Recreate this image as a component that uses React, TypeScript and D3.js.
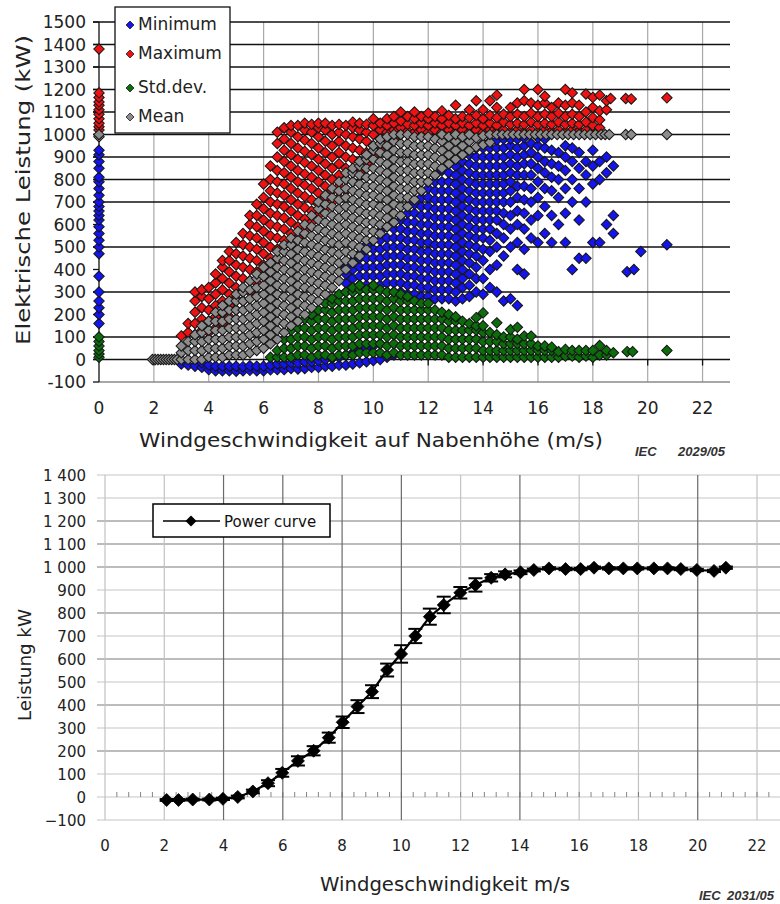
import React from 'react'
import * as d3 from 'd3'

const W = 780, H = 904
const FONT = 'DejaVu Sans'

// upper figure: 10-minute statistics, each entry is [wind m/s, kW, kW, ...]
const minCols: number[][] = [
  [0, 160, 200, 230, 260, 300, 370, 470, 500, 530, 560, 590, 620, 640, 660, 680, 700, 730, 760, 790, 810, 850, 880, 910, 930],
  [3.0, -20], [3.25, -25], [3.5, -30], [3.75, -35, -15],
  [4.0, -45, -25], [4.25, -50, -30], [4.5, -50, -30], [4.75, -50, -30], [5.0, -52, -30],
  [5.25, -50, -32], [5.5, -48, -28], [5.75, -50, -30], [6.0, -50, -30], [6.25, -46, -25],
  [6.5, -45, -20], [6.75, -45, -20], [7.0, -40, -15], [7.25, -42, -15], [7.5, -40, -10],
  [7.75, -35, -10], [8.0, -35, -5], [8.25, -30, 0], [8.5, -30, 5], [8.75, -25, 10],
  [9.0, -25, 20], [9.25, -20, 30], [9.5, -15, 40], [9.75, -10, 50], [10.0, -5, 60],
  [10.25, 0, 70], [10.5, 10], [10.75, 20],
  [9.0, 300, 340, 380, 410],
  [9.25, 320, 360, 400, 440],
  [9.5, 330, 370, 410, 450, 470],
  [9.75, 330, 370, 410, 450, 490, 510],
  [10.0, 330, 370, 410, 450, 490, 530],
  [10.25, 330, 370, 410, 450, 490, 530, 570],
  [10.5, 300, 340, 380, 420, 460, 500, 540, 590],
  [10.75, 300, 340, 380, 420, 460, 500, 540, 580, 610],
  [11.0, 300, 340, 380, 420, 460, 500, 540, 580, 620, 640],
  [11.25, 290, 330, 370, 410, 450, 490, 530, 570, 610, 650, 680],
  [11.5, 290, 330, 370, 410, 450, 490, 530, 570, 610, 650, 690, 710],
  [11.75, 280, 320, 360, 400, 440, 480, 520, 560, 600, 640, 680, 720, 750],
  [12.0, 280, 320, 360, 400, 440, 480, 520, 560, 600, 640, 680, 720, 760, 790],
  [12.25, 270, 310, 350, 390, 430, 470, 510, 550, 590, 630, 670, 710, 750, 790, 820],
  [12.5, 270, 310, 350, 390, 430, 470, 510, 550, 590, 630, 670, 710, 750, 790, 840],
  [12.75, 270, 310, 350, 390, 430, 470, 510, 550, 590, 630, 670, 710, 750, 790, 830, 870],
  [13.0, 260, 300, 340, 380, 420, 460, 500, 540, 580, 620, 660, 700, 740, 780, 820, 860, 890],
  [13.25, 270, 320, 360, 400, 440, 480, 520, 560, 600, 640, 680, 720, 760, 800, 840, 880, 910],
  [13.5, 280, 330, 380, 430, 470, 510, 550, 590, 630, 670, 710, 750, 790, 830, 870, 910, 930],
  [13.75, 300, 360, 410, 460, 500, 540, 580, 620, 660, 700, 740, 780, 820, 860, 900, 940],
  [14.0, 290, 360, 440, 490, 540, 580, 620, 660, 700, 740, 780, 820, 860, 900, 940, 960],
  [14.25, 320, 400, 480, 530, 580, 620, 660, 700, 740, 780, 820, 860, 900, 940, 970],
  [14.5, 300, 420, 500, 560, 620, 660, 700, 740, 780, 820, 860, 900, 940, 975],
  [14.75, 260, 460, 540, 600, 650, 700, 740, 780, 820, 860, 900, 940, 980],
  [15.0, 270, 500, 580, 640, 700, 750, 790, 830, 870, 910, 950, 980],
  [15.25, 240, 400, 520, 600, 660, 720, 770, 820, 860, 900, 940, 980],
  [15.5, 380, 490, 580, 650, 710, 770, 820, 870, 910, 950, 985],
  [15.75, 540, 620, 700, 760, 820, 870, 920, 960],
  [16.0, 520, 640, 720, 790, 850, 900, 950, 985],
  [16.25, 560, 680, 760, 830, 880, 940, 980],
  [16.5, 520, 640, 750, 810, 870, 930],
  [16.75, 600, 720, 800, 860, 920],
  [17.0, 520, 650, 760, 840, 900, 950],
  [17.25, 400, 700, 800, 880, 940],
  [17.5, 450, 620, 760, 850, 920],
  [17.75, 450, 700, 820, 880],
  [18.0, 520, 780, 860, 930],
  [18.25, 520, 800, 880],
  [18.5, 600, 830, 900],
  [18.75, 560, 640, 860],
  [19.25, 390], [19.5, 400], [19.75, 480], [20.7, 510],
]

const maxCols: number[][] = [
  [0, 1020, 1035, 1050, 1070, 1090, 1110, 1130, 1145, 1165, 1185, 1380],
  [3.0, 105],
  [3.25, 120, 160],
  [3.5, 110, 160, 210, 260, 300],
  [3.75, 130, 180, 230, 280, 310],
  [4.0, 120, 170, 220, 270, 320],
  [4.25, 140, 190, 240, 290, 340, 380],
  [4.5, 160, 210, 260, 310, 360, 410, 440],
  [4.75, 190, 240, 290, 340, 390, 440, 480],
  [5.0, 220, 270, 320, 370, 420, 470, 520],
  [5.25, 260, 310, 360, 410, 460, 510, 560],
  [5.5, 300, 350, 400, 450, 500, 550, 600, 640],
  [5.75, 340, 390, 440, 490, 540, 590, 640, 690],
  [6.0, 370, 420, 470, 520, 570, 620, 670, 720, 780],
  [6.25, 400, 450, 500, 550, 600, 650, 700, 750, 800, 860],
  [6.5, 440, 490, 540, 590, 640, 690, 740, 790, 840, 900, 960, 1010],
  [6.75, 480, 530, 580, 630, 680, 730, 780, 830, 880, 930, 980, 1030],
  [7.0, 510, 560, 610, 660, 710, 760, 810, 860, 910, 960, 1010, 1040],
  [7.25, 540, 590, 640, 690, 740, 790, 840, 890, 940, 990, 1040],
  [7.5, 575, 625, 675, 725, 775, 825, 875, 925, 975, 1020, 1050],
  [7.75, 610, 660, 710, 760, 810, 860, 910, 960, 1010, 1045],
  [8.0, 640, 690, 740, 790, 840, 890, 940, 990, 1030, 1050],
  [8.25, 670, 720, 770, 820, 870, 920, 970, 1020, 1050],
  [8.5, 700, 750, 800, 850, 900, 950, 1000, 1040],
  [8.75, 720, 770, 820, 870, 920, 970, 1010, 1045],
  [9.0, 750, 800, 850, 900, 950, 1000, 1040],
  [9.25, 790, 840, 890, 940, 990, 1030, 1055],
  [9.5, 830, 880, 930, 980, 1020, 1050],
  [9.75, 870, 920, 970, 1010, 1045],
  [10.0, 900, 950, 1000, 1040, 1070],
  [10.25, 930, 980, 1020, 1050],
  [10.5, 960, 1010, 1040, 1070],
  [10.75, 980, 1020, 1050, 1080],
  [11.0, 1000, 1030, 1060, 1100],
  [11.25, 1015, 1045, 1080],
  [11.5, 1010, 1040, 1070, 1100],
  [11.75, 1020, 1050, 1080],
  [12.0, 1010, 1040, 1070, 1095],
  [12.25, 1020, 1050, 1080],
  [12.5, 1010, 1040, 1070, 1105],
  [12.75, 1020, 1050, 1085],
  [13.0, 1010, 1040, 1070, 1130],
  [13.25, 1020, 1050, 1080],
  [13.5, 1010, 1040, 1075, 1110],
  [13.75, 1020, 1050, 1085, 1150],
  [14.0, 1010, 1040, 1070, 1110],
  [14.25, 1020, 1050, 1085, 1150],
  [14.5, 1010, 1040, 1075, 1120, 1175],
  [14.75, 1020, 1055, 1090],
  [15.0, 1010, 1045, 1080, 1120],
  [15.25, 1020, 1050, 1090, 1140],
  [15.5, 1010, 1045, 1080, 1150, 1200],
  [15.75, 1020, 1055, 1095, 1140],
  [16.0, 1010, 1045, 1080, 1130, 1200],
  [16.25, 1020, 1050, 1090, 1140, 1170],
  [16.5, 1015, 1045, 1080, 1120],
  [16.75, 1020, 1055, 1095, 1140],
  [17.0, 1010, 1045, 1080, 1130, 1200],
  [17.25, 1020, 1050, 1090, 1140, 1185],
  [17.5, 1015, 1045, 1080, 1130],
  [17.75, 1020, 1055, 1100, 1180],
  [18.0, 1010, 1040, 1075, 1120, 1165],
  [18.25, 1030, 1065, 1105, 1175],
  [18.5, 1110, 1150],
  [18.65, 1160],
  [19.2, 1160], [19.4, 1158], [20.7, 1163],
]

const stdCols: number[][] = [
  [0, 10, 25, 40, 60, 80, 100],
  [6.25, 10], [6.5, 10, 40], [6.75, 10, 50, 90], [7.0, 10, 50, 90, 130],
  [7.25, 20, 60, 100, 140, 170],
  [7.5, 20, 60, 100, 140, 180],
  [7.75, 10, 50, 90, 130, 170, 200],
  [8.0, 20, 60, 100, 140, 180, 220],
  [8.25, 20, 60, 100, 140, 180, 220, 250],
  [8.5, 10, 50, 90, 130, 170, 210, 250, 270],
  [8.75, 20, 60, 100, 140, 180, 220, 260, 290],
  [9.0, 20, 60, 100, 140, 180, 220, 260, 300],
  [9.25, 20, 60, 100, 140, 180, 220, 260, 300, 320],
  [9.5, 30, 70, 110, 150, 190, 230, 270, 310, 330],
  [9.75, 30, 70, 110, 150, 190, 230, 270, 310],
  [10.0, 30, 70, 110, 150, 190, 230, 270, 310, 330],
  [10.25, 30, 70, 110, 150, 190, 230, 270, 310],
  [10.5, 20, 60, 100, 140, 180, 220, 260, 300],
  [10.75, 30, 70, 110, 150, 190, 230, 270, 300],
  [11.0, 20, 60, 100, 140, 180, 220, 260, 290],
  [11.25, 20, 60, 100, 140, 180, 220, 260, 280],
  [11.5, 20, 60, 100, 140, 180, 220, 260],
  [11.75, 20, 60, 100, 140, 180, 220, 250],
  [12.0, 20, 60, 100, 140, 180, 220, 250],
  [12.25, 20, 60, 100, 140, 180, 220],
  [12.5, 20, 60, 100, 140, 180, 210],
  [12.75, 10, 50, 90, 130, 170, 200],
  [13.0, 10, 50, 90, 130, 170, 190],
  [13.25, 10, 50, 90, 130, 170],
  [13.5, 10, 50, 90, 130, 160],
  [13.75, 10, 50, 90, 130, 150, 186],
  [14.0, 10, 40, 80, 120, 150, 207],
  [14.25, 10, 40, 80, 120],
  [14.5, 10, 40, 80, 110, 163],
  [14.75, 10, 40, 70, 100],
  [15.0, 10, 40, 70, 100, 133],
  [15.25, 10, 40, 70, 90, 143],
  [15.5, 10, 40, 70, 104],
  [15.75, 10, 40, 70, 104],
  [16.0, 10, 40, 60],
  [16.25, 10, 40, 60],
  [16.5, 10, 40, 55],
  [16.75, 10, 35], [17.0, 15, 45], [17.25, 15, 40], [17.5, 10, 40], [17.75, 15, 40],
  [18.0, 10, 40], [18.25, 20, 62], [18.5, 20, 40], [18.75, 30],
  [19.25, 35], [19.45, 35], [20.7, 40],
]

const meanCols: number[][] = [
  [0, 990, 1000],
  [1.95, 0], [2.05, 0], [2.15, 0], [2.25, 0], [2.35, 0], [2.45, 0], [2.55, 0], [2.65, 0], [2.75, 0], [2.85, 0],
  [3.0, 0, 30, 60],
  [3.25, 0, 40, 80],
  [3.5, 0, 40, 80, 110],
  [3.75, 0, 40, 80, 120, 150],
  [4.0, 10, 50, 90, 130, 170],
  [4.25, 10, 50, 90, 130, 170, 210],
  [4.5, 10, 50, 90, 130, 170, 210, 240],
  [4.75, 20, 60, 100, 140, 180, 220, 260],
  [5.0, 20, 60, 100, 140, 180, 220, 260, 290],
  [5.25, 20, 60, 100, 140, 180, 220, 260, 300, 320],
  [5.5, 30, 70, 110, 150, 190, 230, 270, 310, 350],
  [5.75, 40, 80, 120, 160, 200, 240, 280, 320, 360, 380],
  [6.0, 50, 90, 130, 170, 210, 250, 290, 330, 370, 410],
  [6.25, 70, 110, 150, 190, 230, 270, 310, 350, 390, 430],
  [6.5, 90, 130, 170, 210, 250, 290, 330, 370, 410, 450, 480],
  [6.75, 120, 160, 200, 240, 280, 320, 360, 400, 440, 480, 510],
  [7.0, 150, 190, 230, 270, 310, 350, 390, 430, 470, 510, 540],
  [7.25, 170, 210, 250, 290, 330, 370, 410, 450, 490, 530, 570],
  [7.5, 200, 240, 280, 320, 360, 400, 440, 480, 520, 560, 600],
  [7.75, 230, 270, 310, 350, 390, 430, 470, 510, 550, 590, 640],
  [8.0, 260, 300, 340, 380, 420, 460, 500, 540, 580, 620, 670, 700],
  [8.25, 290, 330, 370, 410, 450, 490, 530, 570, 610, 650, 690, 730],
  [8.5, 320, 360, 400, 440, 480, 520, 560, 600, 640, 680, 720, 760],
  [8.75, 350, 390, 430, 470, 510, 550, 590, 630, 670, 710, 750, 790],
  [9.0, 400, 440, 480, 520, 560, 600, 640, 680, 720, 760, 800, 830],
  [9.25, 430, 470, 510, 550, 590, 630, 670, 710, 750, 790, 830, 850],
  [9.5, 460, 500, 540, 580, 620, 660, 700, 740, 780, 820, 860, 880],
  [9.75, 490, 530, 570, 610, 650, 690, 730, 770, 810, 850, 890, 910],
  [10.0, 530, 570, 610, 650, 690, 730, 770, 810, 850, 890, 930, 950],
  [10.25, 560, 600, 640, 680, 720, 760, 800, 840, 880, 920, 960, 980],
  [10.5, 590, 630, 670, 710, 750, 790, 830, 870, 910, 950, 990],
  [10.75, 610, 650, 690, 730, 770, 810, 850, 890, 930, 970, 1000],
  [11.0, 640, 680, 720, 760, 800, 840, 880, 920, 960, 1000],
  [11.25, 680, 720, 760, 800, 840, 880, 920, 960, 1000],
  [11.5, 710, 750, 790, 830, 870, 910, 950, 990],
  [11.75, 750, 790, 830, 870, 910, 950, 990],
  [12.0, 790, 830, 870, 910, 950, 990],
  [12.25, 820, 860, 900, 940, 980],
  [12.5, 850, 890, 930, 970, 1000],
  [12.75, 870, 910, 950, 990],
  [13.0, 890, 930, 970, 1000],
  [13.25, 910, 950, 990],
  [13.5, 930, 970, 1000],
  [13.75, 945, 985],
  [14.0, 955, 995],
  [14.25, 965, 1000],
  [14.5, 1000], [14.7, 1000], [14.9, 1000], [15.1, 1000], [15.3, 1000], [15.5, 1000],
  [15.7, 1000], [15.9, 1000], [16.1, 1000], [16.3, 1000], [16.5, 1000], [16.7, 1000],
  [16.9, 1000], [17.1, 1000], [17.3, 1000], [17.5, 1000], [17.7, 1000], [17.9, 1000],
  [18.1, 1000], [18.3, 1000], [18.45, 1000], [18.6, 1000],
  [19.2, 1000], [19.4, 1000], [20.7, 1000],
]

const topLegend = ['Minimum', 'Maximum', 'Std.dev.', 'Mean']
const topColors = ['#1414ee', '#f01212', '#0b6e0b', '#8c8c8c']
const topYTicks = [-100, 0, 100, 200, 300, 400, 500, 600, 700, 800, 900, 1000, 1100, 1200, 1300, 1400, 1500]
const topGrid = [0, 100, 300, 500, 700, 800, 900, 1000, 1100, 1200, 1300, 1400, 1500]
const topXTicks = [0, 2, 4, 6, 8, 10, 12, 14, 16, 18, 20, 22]

// lower figure: binned power curve
const pcWind = [2.08, 2.48, 2.96, 3.52, 3.98, 4.48, 4.99, 5.5, 5.98, 6.51, 7.04, 7.55, 8.02, 8.52, 9.01, 9.52,
  9.99, 10.47, 10.96, 11.43, 11.99, 12.5, 13.03, 13.5, 14.02, 14.47, 14.98, 15.54, 16.05, 16.5, 17.0, 17.49,
  17.96, 18.52, 18.98, 19.43, 19.97, 20.55, 20.95]
const pcPower = [-13, -13, -11, -11, -8, 0, 24, 60, 105, 157, 201, 258, 325, 393, 458, 552,
  622, 700, 784, 835, 888, 922, 953, 968, 977, 987, 994, 991, 991, 997, 994, 994,
  994, 994, 994, 991, 987, 983, 997]
const pcErr = [4, 4, 4, 4, 5, 6, 8, 13, 17, 20, 20, 22, 25, 28, 28, 28,
  38, 31, 35, 36, 25, 29, 16, 13, 8, 6, 5, 5, 5, 5, 5, 5,
  5, 5, 5, 5, 5, 5, 5]
const botYTicks = [-100, 0, 100, 200, 300, 400, 500, 600, 700, 800, 900, 1000, 1100, 1200, 1300, 1400]
const botXTicks = [0, 2, 4, 6, 8, 10, 12, 14, 16, 18, 20, 22]
const botDarkY = [200, 400, 600, 800, 1000, 1100, 1200]
const botDarkX = [4, 6, 8, 10, 14, 20]

const diamond = (cx: number, cy: number, r: number) =>
  `M${cx},${cy - r}L${cx + r},${cy}L${cx},${cy + r}L${cx - r},${cy}Z`

const points = (cols: number[][]) => cols.flatMap(([x, ...vs]) => vs.map(v => [x, v]))

export default function App() {
  const xT = d3.scaleLinear().domain([0, 23]).range([99, 730])
  const yT = d3.scaleLinear().domain([-100, 1500]).range([382, 22])
  const xB = d3.scaleLinear().domain([0, 22]).range([105, 757])
  const yB = d3.scaleLinear().domain([-100, 1400]).range([820, 475])

  const topSeries = [minCols, maxCols, stdCols, meanCols]
  const fmtB = (v: number) => (v < 0 ? '\u2212' + Math.abs(v) : d3.format(',')(v).replace(',', ' '))
  const curve = d3.line<number>().x(i => xB(pcWind[i])).y(i => yB(pcPower[i]))
  const idx = pcWind.map((_, i) => i)
  const minorTicks = d3.range(0.4, 22.8, 0.4)
  const iec = {fontSize: 13, fontStyle: 'italic', fontWeight: 'bold', fill: '#333', fontFamily: 'Liberation Sans'}

  return (
    <svg width={W} height={H} style={{position: 'absolute', left: 0, top: 0, background: '#fff'}}
      fontFamily={FONT}>
      {/* ---------- upper chart ---------- */}
      {topXTicks.filter(v => v > 0).map(v =>
        <line key={'tv' + v} x1={xT(v)} x2={xT(v)} y1={yT(1500)} y2={yT(-100)} stroke="#a8a8a8" strokeWidth={1.2}/>
      )}
      <line x1={xT(0)} x2={730} y1={yT(-100)} y2={yT(-100)} stroke="#8a8a8a" strokeWidth={1.3}/>
      {topGrid.map(v =>
        <line key={'th' + v} x1={93} x2={730} y1={yT(v)} y2={yT(v)} stroke="#111" strokeWidth={1.3}/>
      )}
      {topYTicks.map(v =>
        <line key={'tt' + v} x1={93} x2={99} y1={yT(v)} y2={yT(v)} stroke="#111" strokeWidth={1.3}/>
      )}
      {topXTicks.filter(v => v > 0).map(v =>
        <line key={'tx' + v} x1={xT(v)} x2={xT(v)} y1={yT(0)} y2={yT(0) + 6} stroke="#111" strokeWidth={1.3}/>
      )}
      <line x1={xT(0)} x2={xT(0)} y1={yT(1500)} y2={yT(-100)} stroke="#111" strokeWidth={1.3}/>

      {topSeries.map((cols, si) =>
        <g key={'s' + si}>
          {points(cols).map(([x, v], i) =>
            <path key={i} d={diamond(xT(x), yT(v), 5.2)} fill={topColors[si]} stroke="#151515" strokeWidth={1.05}/>
          )}
        </g>
      )}

      {topYTicks.map(v =>
        <text key={'tyl' + v} x={86} y={yT(v) + 6} textAnchor="end" fontSize={17} fill="#222">{v}</text>
      )}
      {topXTicks.map(v =>
        <text key={'txl' + v} x={xT(v)} y={414} textAnchor="middle" fontSize={17} fill="#222">{v}</text>
      )}
      <text x={371} y={447} textAnchor="middle" fontSize={20} fill="#222" textLength={464}
        lengthAdjust="spacingAndGlyphs">Windgeschwindigkeit auf Nabenhöhe (m/s)</text>
      <text transform="translate(30,190) rotate(-90)" textAnchor="middle" fontSize={20} fill="#222"
        textLength={310} lengthAdjust="spacingAndGlyphs">Elektrische Leistung (kW)</text>
      <text x={635} y={456} {...iec}>IEC</text>
      <text x={725} y={456} textAnchor="end" {...iec}>2029/05</text>

      <rect x={115} y={7} width={115} height={126} fill="#fff" stroke="#111" strokeWidth={1.3}/>
      {topLegend.map((name, i) => {
        const ly = [24, 53, 87, 116][i]
        return (
          <g key={name}>
            <path d={diamond(130, ly + 1, 4)} fill={topColors[i]} stroke="#1c1c1c" strokeWidth={0.8}/>
            <text x={138} y={ly + 6} fontSize={17} fill="#222">{name}</text>
          </g>
        )
      })}

      {/* ---------- lower chart ---------- */}
      {botYTicks.map(v =>
        <line key={'bh' + v} x1={97} x2={W} y1={yB(v)} y2={yB(v)}
          stroke={botDarkY.includes(v) ? '#7a7a7a' : '#c6c6c6'} strokeWidth={1.2}/>
      )}
      {botXTicks.map(v =>
        <line key={'bv' + v} x1={xB(v)} x2={xB(v)} y1={yB(1400)} y2={yB(-100)}
          stroke={botDarkX.includes(v) ? '#6a6a6a' : '#c2c2c2'} strokeWidth={1.2}/>
      )}
      {minorTicks.map(v =>
        <line key={'bm' + v} x1={xB(v)} x2={xB(v)} y1={yB(0) - 5} y2={yB(0)} stroke="#666" strokeWidth={0.8}/>
      )}
      {botYTicks.map(v =>
        <text key={'byl' + v} x={86} y={yB(v) + 5.5} textAnchor="end" fontSize={15} fill="#222">{fmtB(v)}</text>
      )}
      {botXTicks.map(v =>
        <text key={'bxl' + v} x={xB(v)} y={851} textAnchor="middle" fontSize={15} fill="#222">{v}</text>
      )}
      <text x={445} y={891} textAnchor="middle" fontSize={19} fill="#222" textLength={250}
        lengthAdjust="spacingAndGlyphs">Windgeschwindigkeit m/s</text>
      <text transform="translate(31,665) rotate(-90)" textAnchor="middle" fontSize={18} fill="#222"
        textLength={112} lengthAdjust="spacingAndGlyphs">Leistung kW</text>
      <text x={699} y={900} {...iec}>IEC</text>
      <text x={727} y={900} {...iec}>2031/05</text>

      <path d={curve(idx) || ''} fill="none" stroke="#000" strokeWidth={2.2}/>
      {idx.map(i => {
        const cx = xB(pcWind[i])
        const y1 = yB(pcPower[i] + pcErr[i]), y2 = yB(pcPower[i] - pcErr[i])
        return (
          <g key={'pc' + i}>
            <line x1={cx} x2={cx} y1={y1} y2={y2} stroke="#000" strokeWidth={1.6}/>
            <line x1={cx - 7} x2={cx + 7} y1={y1} y2={y1} stroke="#000" strokeWidth={2}/>
            <line x1={cx - 7} x2={cx + 7} y1={y2} y2={y2} stroke="#000" strokeWidth={2}/>
            <path d={diamond(cx, yB(pcPower[i]), 6.5)} fill="#000" stroke="#000" strokeWidth={0.8}/>
          </g>
        )
      })}

      <rect x={153} y={504} width={177} height={33} fill="#fff" stroke="#000" strokeWidth={1.5}/>
      <line x1={163} x2={220} y1={521} y2={521} stroke="#000" strokeWidth={1.6}/>
      <path d={diamond(191, 521, 5.5)} fill="#000"/>
      <text x={224} y={527} fontSize={15} fill="#111">Power curve</text>
    </svg>
  )
}
